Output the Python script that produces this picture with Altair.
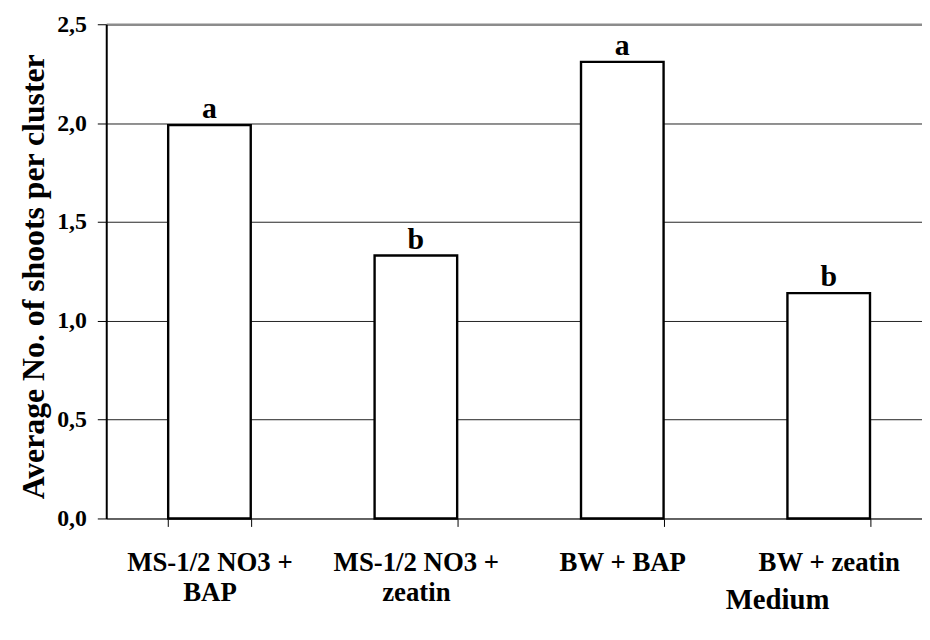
import altair as alt
import pandas as pd

medium = ["MS-1/2 NO3 +|BAP", "MS-1/2 NO3 +|zeatin", "BW + BAP", "BW + zeatin"]
shoots = [1.99, 1.33, 2.31, 1.14]
letters = ["a", "b", "a", "b"]
y_ticks = [0.0, 0.5, 1.0, 1.5, 2.0, 2.5]

df = pd.DataFrame({"medium": medium, "shoots": shoots, "letter": letters})

FONT = "Liberation Serif"

x_enc = alt.X(
    "medium:N",
    sort=medium,
    scale=alt.Scale(range=[0, 832], paddingInner=0.6, paddingOuter=0.3),
    axis=alt.Axis(
        title="Medium",
        titleFont=FONT,
        titleFontSize=29,
        titleFontWeight="bold",
        titleColor="black",
        titleBaseline="alphabetic",
        titleX=676,
        titleY=91,
        titleAlign="center",
        labelFont=FONT,
        labelFontSize=27,
        labelFontWeight="bold",
        labelColor="black",
        labelAngle=0,
        labelBaseline="top",
        labelLineHeight=31,
        labelPadding=23,
        labelExpr="split(datum.label, '|')",
        tickBand="extent",
        tickSize=8,
        tickColor="black",
        tickWidth=1,
        domainColor="#555555",
        domainWidth=1.5,
        grid=False,
        labelOverlap=False,
    ),
)

y_enc = alt.Y(
    "shoots:Q",
    scale=alt.Scale(domain=[0, 2.5], nice=False),
    axis=alt.Axis(
        title="Average No. of shoots per cluster",
        titleFont=FONT,
        titleFontSize=32,
        titleFontWeight="bold",
        titleColor="black",
        titleBaseline="alphabetic",
        titleAngle=-90,
        titleX=-63,
        titleY=254,
        titleAlign="center",
        values=y_ticks,
        labelExpr="replace(format(datum.value, '.1f'), '.', ',')",
        labelFont=FONT,
        labelFontSize=24,
        labelFontWeight="bold",
        labelColor="black",
        labelPadding=11,
        tickSize=9,
        tickColor="black",
        tickWidth=1,
        domainColor="black",
        domainWidth=2,
        grid=True,
        gridColor={"condition": {"test": "datum.value == 2.5", "value": "#8c8c8c"}, "value": "#222222"},
        gridWidth={"condition": {"test": "datum.value == 2.5", "value": 2.5}, "value": 1},
    ),
)

bars = alt.Chart(df).mark_bar(fill="white", stroke="black", strokeWidth=2.4).encode(x=x_enc, y=y_enc)

text = alt.Chart(df).mark_text(
    baseline="alphabetic", dy=-7, font=FONT, fontSize=30, fontWeight="bold", color="black"
).encode(x=alt.X("medium:N", sort=medium), y="shoots:Q", text="letter:N")

chart = (
    alt.layer(bars, text)
    .properties(
        width=822,
        height=498,
        autosize=alt.AutoSizeParams(type="none"),
        padding={"left": 99, "top": 14, "right": 0, "bottom": 110},
        background="white",
    )
    .configure_view(stroke=None)
)

chart.save("out.html", embed_options={"renderer": "svg", "actions": False})
